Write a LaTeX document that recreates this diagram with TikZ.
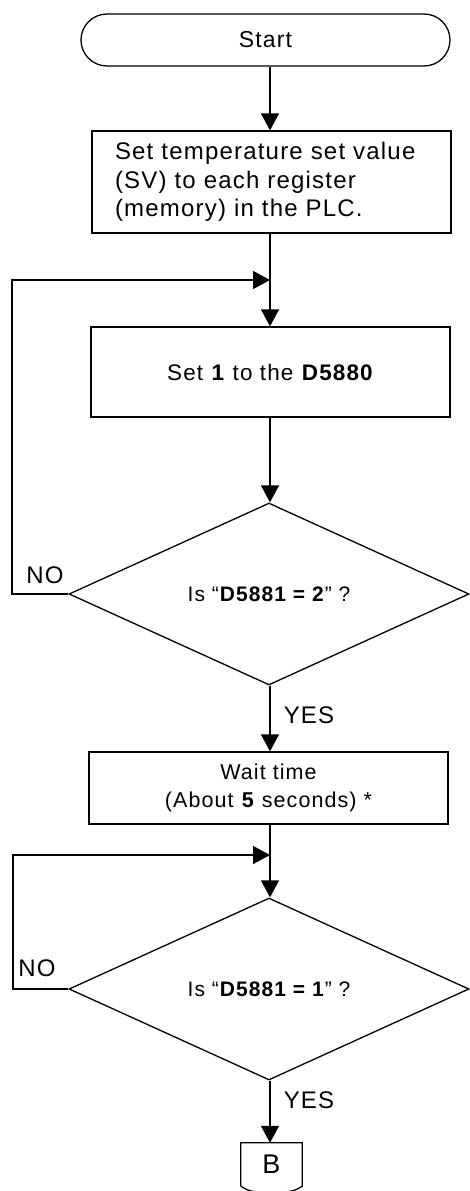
\documentclass[tikz,border=0pt]{standalone}
\usepackage{fontspec}
\setmainfont{Liberation Sans}[LetterSpace=5]
\usetikzlibrary{shapes.geometric,arrows.meta}
\begin{document}
\begin{tikzpicture}[x=1pt,y=-1pt,
  every node/.style={inner sep=0pt},
  line/.style={line width=1.3pt,draw=black},
  arr/.style={line,-{Triangle[length=17pt,width=18pt]}},
  box/.style={line,rectangle,minimum width=359pt,font=\fontsize{21.5}{28}\selectfont,align=center},
  decision/.style={line,diamond,minimum width=400pt,minimum height=182pt,font=\fontsize{21}{26}\selectfont},
  lbl/.style={font=\fontsize{24}{26}\selectfont}]
\useasboundingbox (0,0) rectangle (469,1191);
% nodes
\node[line,rectangle,rounded corners=26pt,minimum width=369pt,minimum height=52pt,font=\fontsize{23}{26}\selectfont] (start) at (265.5,40) {Start};
\node[box,minimum height=102pt,align=left,text width=313pt,inner xsep=23pt,font=\fontsize{24}{28.5}\selectfont] (box1) at (271.5,182) {Set temperature set value\\(SV) to each register\\(memory) in the PLC.};
\node[box,minimum height=90pt,font=\fontsize{22.5}{28}\selectfont] (box2) at (270.5,372) {Set \textbf{1} to the \textbf{D5880}};
\node[decision] (d1) at (269,594) {Is “\textbf{D5881 = 2}” ?};
\node[box,minimum height=72pt] (box3) at (268.5,788) {Wait time\\(About \textbf{5} seconds) *};
\node[decision] (d2) at (269,989) {Is “\textbf{D5881 = 1}” ?};
\node[minimum width=61pt,minimum height=43pt,font=\fontsize{27}{30}\selectfont] (B) at (271.5,1164.5) {B};
\draw[line] (B.south west) -- (B.north west) -- (B.north east) -- (B.south east)
  .. controls ([xshift=-8pt,yshift=-5pt]B.south east) and ([xshift=20pt,yshift=-6pt]B.south) .. ([yshift=-6pt]B.south)
  .. controls ([xshift=-20pt,yshift=-6pt]B.south) and ([xshift=8pt,yshift=-5pt]B.south west) .. (B.south west);
% labels
\node[lbl] (no1) at (45,575) {NO};
\node[lbl] (yes1) at (309,715) {YES};
\node[lbl] (no2) at (37,968) {NO};
\node[lbl] (yes2) at (309,1100) {YES};
% junctions
\coordinate (j1) at (270,280);
\coordinate (c1) at (12,280);
\coordinate (j2) at (270,855);
\coordinate (c2) at (13,855);
% connectors
\draw[arr] (start.south -| 270,0) -- (box1.north -| 270,0);
\draw[arr] (box1.south -| 270,0) -- (box2.north -| 270,0);
\draw[arr] (box2.south -| 270,0) -- (d1.north -| 270,0);
\draw[arr] (d1.west) -- (d1.west -| c1) -- (c1) -- (j1);
\draw[arr] (d1.south -| 270,0) -- (box3.north -| 270,0);
\draw[arr] (box3.south -| 270,0) -- (d2.north -| 270,0);
\draw[arr] (d2.west) -- (d2.west -| c2) -- (c2) -- (j2);
\draw[arr] (d2.south -| 270,0) -- (B.north -| 270,0);
\end{tikzpicture}
\end{document}
